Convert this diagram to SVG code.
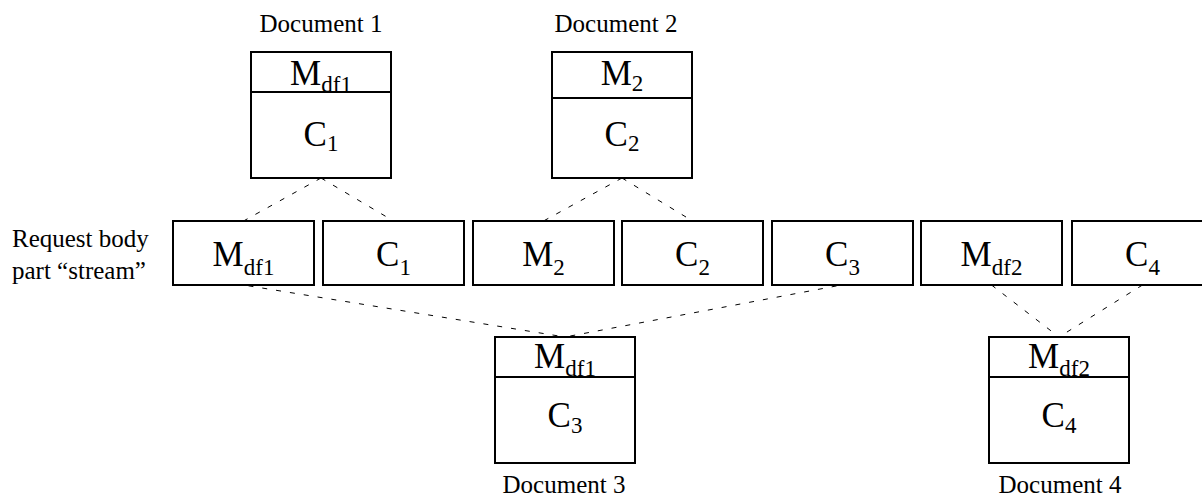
<svg xmlns="http://www.w3.org/2000/svg" width="1202" height="498" viewBox="0 0 1202 498">
<style>
.box{fill:#fff;stroke:#000;stroke-width:2}
.div{stroke:#000;stroke-width:2}
.dash{stroke:#000;stroke-width:1;stroke-dasharray:5 9;fill:none}
.lbl{font-family:"Liberation Serif","Times New Roman",serif;font-size:25px;fill:#000}
.big{font-family:"Liberation Serif","Times New Roman",serif;font-size:35px;fill:#000;text-anchor:middle}
.sub{font-size:23px}
</style>
<rect width="1202" height="498" fill="#fff"/>
<g id="connectors">
<line class="dash" x1="321" y1="178" x2="243.5" y2="221"/>
<line class="dash" x1="321" y1="178" x2="393.5" y2="221"/>
<line class="dash" x1="622" y1="178" x2="543.5" y2="221"/>
<line class="dash" x1="622" y1="178" x2="692.5" y2="221"/>
<line class="dash" x1="243.5" y1="285" x2="565" y2="337" stroke-dashoffset="9"/>
<line class="dash" x1="841.5" y1="285" x2="565" y2="337" stroke-dashoffset="9"/>
<line class="dash" x1="991.5" y1="285" x2="1059" y2="337"/>
<line class="dash" x1="1142.5" y1="285" x2="1059" y2="337"/>
</g>
<g id="doc1">
<text class="lbl" x="321" y="32" text-anchor="middle">Document 1</text>
<rect class="box" x="251" y="52" width="140" height="126"/>
<line class="div" x1="251" y1="92" x2="391" y2="92"/>
<text class="big" x="321" y="85">M<tspan class="sub" dy="7">df1</tspan></text>
<text class="big" x="321" y="146">C<tspan class="sub" dy="5">1</tspan></text>
</g>
<g id="doc2">
<text class="lbl" x="616" y="32" text-anchor="middle">Document 2</text>
<rect class="box" x="552" y="52" width="140" height="126"/>
<line class="div" x1="552" y1="98" x2="692" y2="98"/>
<text class="big" x="622" y="85">M<tspan class="sub" dy="6">2</tspan></text>
<text class="big" x="622" y="146">C<tspan class="sub" dy="5">2</tspan></text>
</g>
<g id="stream-label">
<text class="lbl" x="12" y="247">Request body</text>
<text class="lbl" x="12" y="279">part “stream”</text>
</g>
<g id="s1"><rect class="box" x="173" y="221" width="141" height="64"/><text class="big" x="243.5" y="266">M<tspan class="sub" dy="9">df1</tspan></text></g>
<g id="s2"><rect class="box" x="323" y="221" width="141" height="64"/><text class="big" x="393.5" y="266">C<tspan class="sub" dy="9">1</tspan></text></g>
<g id="s3"><rect class="box" x="473" y="221" width="141" height="64"/><text class="big" x="543.5" y="266">M<tspan class="sub" dy="9">2</tspan></text></g>
<g id="s4"><rect class="box" x="622" y="221" width="141" height="64"/><text class="big" x="692.5" y="266">C<tspan class="sub" dy="9">2</tspan></text></g>
<g id="s5"><rect class="box" x="772" y="221" width="141" height="64"/><text class="big" x="842.5" y="266">C<tspan class="sub" dy="9">3</tspan></text></g>
<g id="s6"><rect class="box" x="921" y="221" width="141" height="64"/><text class="big" x="991.5" y="266">M<tspan class="sub" dy="9">df2</tspan></text></g>
<g id="s7"><rect class="box" x="1072" y="221" width="141" height="64"/><text class="big" x="1142.5" y="266">C<tspan class="sub" dy="9">4</tspan></text></g>
<g id="doc3">
<rect class="box" x="495" y="337" width="140" height="126"/>
<line class="div" x1="495" y1="377" x2="635" y2="377"/>
<text class="big" x="565" y="368">M<tspan class="sub" dy="8">df1</tspan></text>
<text class="big" x="565" y="427">C<tspan class="sub" dy="6">3</tspan></text>
<text class="lbl" x="564" y="493" text-anchor="middle">Document 3</text>
</g>
<g id="doc4">
<rect class="box" x="989" y="337" width="140" height="126"/>
<line class="div" x1="989" y1="377" x2="1129" y2="377"/>
<text class="big" x="1059" y="368">M<tspan class="sub" dy="8">df2</tspan></text>
<text class="big" x="1059" y="427">C<tspan class="sub" dy="6">4</tspan></text>
<text class="lbl" x="1060" y="493" text-anchor="middle">Document 4</text>
</g>
</svg>
